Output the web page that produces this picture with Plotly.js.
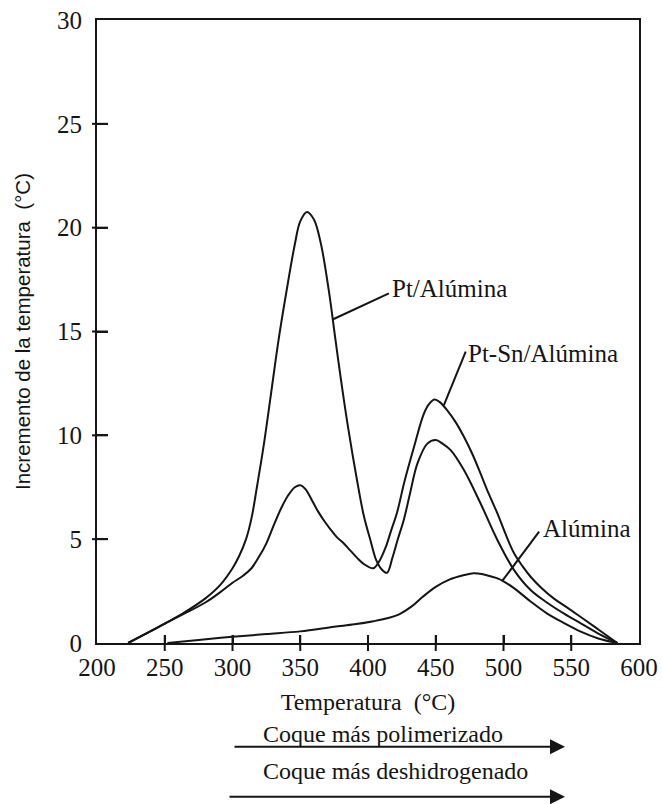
<!DOCTYPE html>
<html>
<head>
<meta charset="utf-8">
<script src="https://cdn.plot.ly/plotly-3.0.1.min.js"></script>
<style>html,body{margin:0;padding:0;background:#fff;}#chart{width:662px;height:804px;}</style>
</head>
<body>
<div id="chart"></div>
<script>
// ---- data ----
const ptX   = [223,240,252,264,280,291,300,305,310,314,318,323,328,334,340,346,350,355,360,365,371,376,380,385,392,397,402,406,410,414,418,422,426.5,431,436.5,443.8,450,455,461,470.8,483,495.5,507.8,520,532,545,557,570,584];
const ptY   = [0,0.58,1.0,1.45,2.15,2.8,3.6,4.2,5.0,6.0,7.5,9.5,11.8,14.6,17.0,19.2,20.3,20.75,20.4,19.3,17.0,14.6,12.7,10.5,7.8,6.1,4.9,4.0,3.55,3.38,4.1,5.0,5.95,7.2,8.65,9.6,9.77,9.6,9.29,8.33,6.73,4.96,3.51,2.55,1.95,1.4,0.95,0.45,0];

const ptsnX = [223,240,252,264,280,291,300,308,314,320,325,331,336,341,346,350,354,358,363,368,372,377,382,387,392,397,404,408,413,417,421.5,427,434,441,445,449,453,458.5,465,470.8,477,483,489,495.5,501.5,507.8,514,520,528,537,546,557,570,584];
const ptsnY = [0,0.58,1.0,1.4,1.95,2.45,2.9,3.25,3.6,4.2,4.8,5.76,6.5,7.1,7.5,7.6,7.4,6.95,6.35,5.85,5.5,5.1,4.8,4.45,4.1,3.8,3.6,3.9,4.6,5.4,6.3,7.8,9.45,11.0,11.5,11.72,11.6,11.2,10.6,9.93,9.1,8.17,7.2,6.24,5.25,4.32,3.7,3.19,2.65,2.15,1.75,1.25,0.65,0];

const aluX  = [252,275,300,325,350,375,390,404,415,423,432,440,450,460,471,478,484,491,496,500,508,520,532,545,557,570,584];
const aluY  = [0,0.15,0.3,0.43,0.56,0.78,0.9,1.05,1.2,1.38,1.75,2.2,2.7,3.05,3.27,3.36,3.32,3.2,3.1,2.97,2.63,2.0,1.43,0.95,0.55,0.22,0];

const xTickVals = [200,250,300,350,400,450,500,550,600];
const xTickText = ['200','250','300','350','400','450','500','550','600'];
const xCrossTicks = [250,300,350,400,450,500,550];
const yTickVals = [0,5,10,15,20,25,30];
const yTickText = ['0','5','10','15','20','25','30'];
const yCrossTicks = [5,10,15,20,25];

const xTitle = 'Temperatura  (°C)';
const yTitle = 'Incremento de la temperatura  (°C)';
const seriesLabels = ['Pt/Alúmina','Pt-Sn/Alúmina','Alúmina'];
const notes = ['Coque más polimerizado','Coque más deshidrogenado'];

// ---- drawing ----
const ink = '#151515';
const serif = 'Liberation Serif, Times New Roman, serif';
const sans = 'Liberation Sans, Arial, sans-serif';

function curve(x, y, name) {
  return {type:'scatter', mode:'lines', x:x, y:y, name:name,
          line:{color:ink, width:2, shape:'spline', smoothing:1},
          showlegend:false, hoverinfo:'skip', cliponaxis:true};
}

const traces = [
  curve(ptX, ptY, seriesLabels[0]),
  curve(ptsnX, ptsnY, seriesLabels[1]),
  curve(aluX, aluY, seriesLabels[2])
];

// tick marks that cross the frame (built from the tick arrays, sized in pixels)
const xTickMarks = xCrossTicks.map(v => ({type:'line', xref:'x', yref:'paper', x0:v, x1:v,
  ysizemode:'pixel', yanchor:0, y0:-8, y1:8, line:{color:ink, width:2}}));
const yTickMarks = yCrossTicks.map(v => ({type:'line', xref:'paper', yref:'y', y0:v, y1:v,
  xsizemode:'pixel', xanchor:0, x0:-5, x1:11, line:{color:ink, width:2}}));

const xr = [200,600], yr = [0,30];

const layout = {
  width:662, height:804, showlegend:false,
  margin:{l:97, r:23, t:20, b:161, pad:0},
  paper_bgcolor:'#fff', plot_bgcolor:'#fff',
  font:{family:serif, color:ink},
  xaxis:{range:xr, tickmode:'array', tickvals:xTickVals, ticktext:xTickText,
         ticks:'inside', ticklen:8, tickwidth:2, tickcolor:ink,
         tickfont:{family:serif, size:25, color:ink}, ticklabelstandoff:1,
         showline:true, linewidth:2, linecolor:ink, mirror:true,
         showgrid:false, zeroline:false,
         title:{text:xTitle, font:{family:serif, size:24, color:ink}, standoff:13}},
  yaxis:{range:yr, tickmode:'array', tickvals:yTickVals, ticktext:yTickText,
         ticks:'inside', ticklen:11, tickwidth:2, tickcolor:ink,
         tickfont:{family:serif, size:25, color:ink}, ticklabelstandoff:8,
         showline:true, linewidth:2, linecolor:ink, mirror:true,
         showgrid:false, zeroline:false,
         title:{text:yTitle, font:{family:sans, size:20.5, color:ink}, standoff:21}},
  shapes:[
    ...xTickMarks, ...yTickMarks,
    {type:'line', xref:'x', yref:'y', x0:374.3, y0:15.59, x1:415.4, y1:16.84, line:{color:ink, width:2}},
    {type:'line', xref:'x', yref:'y', x0:456.0, y0:11.46, x1:472.1, y1:14.03, line:{color:ink, width:2}},
    {type:'line', xref:'x', yref:'y', x0:499.2, y0:3.0, x1:526.3, y1:5.36, line:{color:ink, width:2}}
  ],
  annotations:[
    {xref:'x', yref:'y', x:416.5, y:17.05, text:seriesLabels[0], showarrow:false, xanchor:'left', yanchor:'middle',
     font:{family:serif, size:25, color:ink}},
    {xref:'x', yref:'y', x:472.5, y:13.95, text:seriesLabels[1], showarrow:false, xanchor:'left', yanchor:'middle',
     font:{family:serif, size:25, color:ink}},
    {xref:'x', yref:'y', x:527.5, y:5.5, text:seriesLabels[2], showarrow:false, xanchor:'left', yanchor:'middle',
     font:{family:serif, size:25, color:ink}},
    {xref:'paper', yref:'paper', x:0.302, y:-0.146, text:notes[0], showarrow:false, xanchor:'left', yanchor:'middle',
     font:{family:serif, size:24, color:ink}},
    {xref:'paper', yref:'paper', x:0.302, y:-0.2055, text:notes[1], showarrow:false, xanchor:'left', yanchor:'middle',
     font:{family:serif, size:24, color:ink}},
    {xref:'paper', yref:'paper', x:0.8635, y:-0.1665, ax:-332, ay:0, axref:'pixel', ayref:'pixel', text:'',
     showarrow:true, arrowhead:2, arrowsize:1.5, arrowwidth:2, arrowcolor:ink, standoff:0},
    {xref:'paper', yref:'paper', x:0.8635, y:-0.2467, ax:-337, ay:0, axref:'pixel', ayref:'pixel', text:'',
     showarrow:true, arrowhead:2, arrowsize:1.5, arrowwidth:2, arrowcolor:ink, standoff:0}
  ]
};

Plotly.newPlot('chart', traces, layout, {displayModeBar:false, staticPlot:true});
</script>
</body>
</html>
